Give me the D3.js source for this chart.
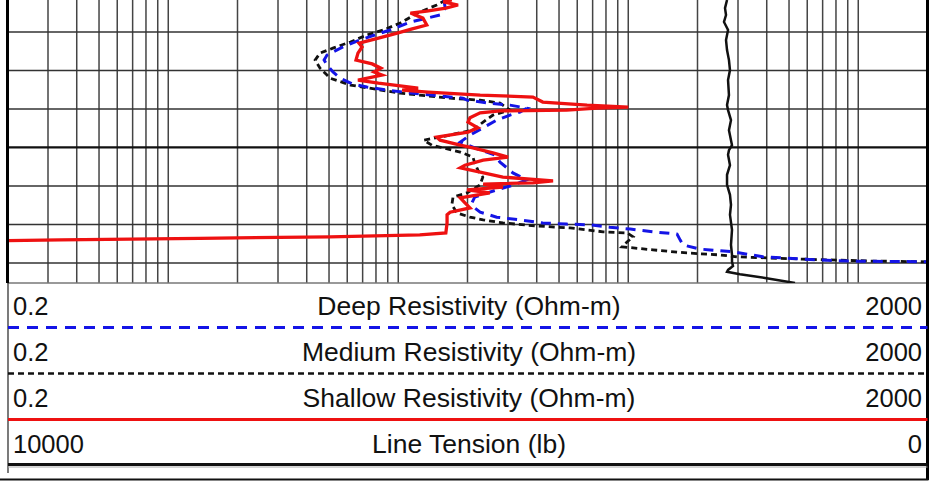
<!DOCTYPE html>
<html lang="en">
<head>
    <meta charset="UTF-8">
    <title>Resistivity Log</title>
    <script src="https://d3js.org/d3.v7.min.js"></script>
    <style>
        body { margin: 0; background: #fff; }
        text { font-family: "Liberation Sans", Arial, sans-serif; fill: #111; }
    </style>
</head>
<body>
<div id="log"></div>
<script>
// ---- data (depth in ft, resistivity in ohm-m, tension in lb) ----
const deepDepth = [5011.7, 5013.8, 5015.6, 5017.4, 5019.5, 5020.8, 5022.1, 5023.9, 5025.2, 5026.0,
    5027.3, 5028.6, 5030.4, 5032.0, 5033.5, 5034.3, 5035.1, 5036.1, 5037.2, 5037.7,
    5038.5, 5039.0, 5039.8, 5040.8, 5041.6, 5042.9, 5044.2, 5046.8, 5048.6, 5050.1,
    5051.9, 5053.8, 5055.3, 5056.6, 5058.4, 5059.7, 5061.0, 5062.9, 5064.4, 5065.7,
    5066.8, 5068.1, 5068.8, 5069.6, 5069.9, 5070.1, 5070.7, 5071.2, 5071.9, 5072.5,
    5074.0, 5075.3, 5076.4, 5076.6, 5077.1, 5078.4, 5079.0, 5079.5, 5079.7];
const deepRes = [15.8, 16.0, 15.2, 11.3, 9.2, 7.9, 6.8, 5.75, 5.2, 4.9,
    4.76, 4.9, 5.2, 5.6, 6.3, 7.3, 8.9, 12.4, 19.1, 19.9,
    25.0, 30.6, 36.2, 33.8, 30.6, 26.8, 24.5, 20.5, 18.6, 21.5,
    26.2, 27.7, 29.7, 31.5, 36.2, 31.9, 26.8, 21.5, 20.9, 21.5,
    22.7, 26.8, 33.8, 42.5, 54, 68, 83, 102, 128, 163,
    168, 173, 205, 227, 286, 385, 571, 898, 2000];

const medDepth = [5011.7, 5013.0, 5015.1, 5017.7, 5019.5, 5020.8, 5022.6, 5024.2, 5025.5, 5027.3,
    5029.4, 5031.2, 5032.0, 5033.8, 5035.9, 5037.2, 5037.7, 5038.5, 5040.3, 5041.6,
    5043.4, 5045.5, 5047.3, 5048.1, 5049.4, 5051.2, 5052.5, 5054.0, 5055.9, 5057.7,
    5059.7, 5061.8, 5062.9, 5064.9, 5067.0, 5068.1, 5068.8, 5069.6, 5070.4, 5070.9,
    5071.9, 5072.2, 5073.2, 5074.5, 5075.8, 5076.6, 5077.4, 5077.9, 5078.4, 5079.0,
    5079.5, 5079.7];
const medRes = [16.1, 14.7, 12.1, 10.2, 8.6, 7.3, 6.2, 5.2, 4.57, 4.35,
    4.57, 4.9, 5.05, 6.2, 10.2, 16.8, 22.7, 27.7, 30.6, 25.8,
    23.4, 21.1, 15.2, 12.9, 14.0, 18.6, 21.1, 21.5, 22.2, 23.3,
    22.7, 19.9, 17.3, 17.1, 18.0, 20.5, 23.4, 28.5, 40.1, 55.8,
    77.7, 99, 105, 99, 94, 128, 180, 250, 297, 571,
    1133, 2000];

const shallowDepth = [5011.7, 5012.2, 5013.0, 5013.8, 5014.6, 5015.1, 5016.4, 5018.2, 5019.2, 5020.3,
    5021.6, 5022.9, 5023.9, 5025.5, 5027.3, 5028.3, 5029.4, 5030.4, 5031.2, 5032.5,
    5033.3, 5034.0, 5034.6, 5035.1, 5035.6, 5036.4, 5036.9, 5038.2, 5039.0, 5039.5,
    5039.8, 5040.3, 5040.5, 5041.0, 5042.3, 5043.4, 5044.9, 5046.0, 5047.3, 5048.1,
    5049.4, 5050.1, 5051.4, 5052.5, 5053.3, 5054.6, 5055.3, 5056.4, 5057.7, 5058.7,
    5059.2, 5059.5, 5060.3, 5061.0, 5061.8, 5063.1, 5064.4, 5065.7, 5066.8, 5067.5,
    5069.6, 5072.2, 5072.7, 5073.2, 5073.6, 5074.0, 5074.2];
const shallowRes = [17.1, 15.7, 18.2, 16.1, 13.3, 11.3, 12.8, 13.3, 11.5, 9.9,
    8.2, 6.75, 6.96, 6.68, 6.55, 7.7, 8.4, 7.85, 8.5, 6.68,
    8.2, 10.2, 12.2, 10.4, 13.5, 22.7, 38.5, 42.5, 66.2, 100,
    72.9, 54, 27.7, 22.7, 20.5, 20.1, 22.2, 20.1, 14.7, 15.2,
    18.6, 21.1, 25.8, 30.0, 23.4, 19.5, 18.6, 22.7, 28.5, 47.1,
    38.5, 23.4, 28.5, 19.9, 25.0, 18.6, 19.5, 20.5, 16.8, 16.3,
    16.3, 16.1, 12.4, 5.05, 1.37, 0.34, 0.2];

const tensionDepth = [5011.7, 5013.8, 5015.6, 5017.4, 5019.5, 5022.1, 5024.7, 5027.3, 5029.9, 5032.5,
    5036.4, 5039.0, 5040.3, 5042.9, 5045.5, 5048.1, 5049.4, 5050.7, 5051.9, 5054.6,
    5057.1, 5059.7, 5062.3, 5064.9, 5067.5, 5071.4, 5075.3, 5077.9, 5079.7, 5080.8,
    5081.8, 5082.3, 5082.9, 5083.9, 5085.2];
const tension = [2179, 2201, 2190, 2212, 2168, 2190, 2179, 2158, 2147, 2168,
    2158, 2179, 2168, 2136, 2158, 2136, 2125, 2158, 2168, 2147,
    2179, 2179, 2147, 2136, 2147, 2125, 2136, 2125, 2125, 2114,
    2168, 2179, 2038, 1766, 1440];

const depthGrid = [5020, 5030, 5040, 5050, 5060, 5070, 5080];
const curveNames = ["Deep Resistivity (Ohm-m)", "Medium Resistivity (Ohm-m)",
    "Shallow Resistivity (Ohm-m)", "Line Tension (lb)"];
const scaleLeft = ["0.2", "0.2", "0.2", "10000"];
const scaleRight = ["2000", "2000", "2000", "0"];

// ---- layout ----
const W = 941, H = 481;
const trackLeft = 7.5, trackRight = 927.5, trackBottom = 283;

const svg = d3.select("#log").append("svg")
    .attr("width", W)
    .attr("height", H);

const x = d3.scaleLog().domain([0.2, 2000]).range([trackLeft, trackRight]);
const xT = d3.scaleLinear().domain([10000, 0]).range([trackLeft, trackRight]);
const y = d3.scaleLinear().domain([5011.7, 5085.2]).range([0, trackBottom]);

svg.append("clipPath").attr("id", "trk")
    .append("rect")
    .attr("x", trackLeft).attr("y", 0)
    .attr("width", trackRight - trackLeft).attr("height", trackBottom);

// vertical log grid
const grid = svg.append("g");
grid.selectAll("line.v")
    .data(x.ticks().filter(v => v > 0.2 && v < 2000))
    .enter().append("line")
    .attr("class", "v")
    .attr("x1", d => x(d)).attr("x2", d => x(d))
    .attr("y1", 0).attr("y2", trackBottom)
    .attr("stroke", "#444")
    .attr("stroke-width", 1.5);

// depth grid
grid.selectAll("line.h")
    .data(depthGrid)
    .enter().append("line")
    .attr("class", "h")
    .attr("x1", trackLeft).attr("x2", trackRight)
    .attr("y1", d => y(d)).attr("y2", d => y(d))
    .attr("stroke", d => d % 50 === 0 ? "#111" : "#333")
    .attr("stroke-width", d => d % 50 === 0 ? 2.2 : 1.5);

grid.append("line")
    .attr("x1", trackLeft).attr("x2", trackRight)
    .attr("y1", trackBottom).attr("y2", trackBottom)
    .attr("stroke", "#777").attr("stroke-width", 1.5);

// curves
const resLine = d3.line().x(d => x(d[1])).y(d => y(d[0]));
const tenLine = d3.line().x(d => xT(d[1])).y(d => y(d[0]));
const curves = svg.append("g").attr("clip-path", "url(#trk)");

curves.append("path")
    .datum(d3.zip(medDepth, medRes))
    .attr("d", resLine)
    .attr("fill", "none")
    .attr("stroke", "#111")
    .attr("stroke-width", 2.8)
    .attr("stroke-dasharray", "6,4");

curves.append("path")
    .datum(d3.zip(deepDepth, deepRes))
    .attr("d", resLine)
    .attr("fill", "none")
    .attr("stroke", "#1414e6")
    .attr("stroke-width", 3)
    .attr("stroke-dasharray", "10,7");

curves.append("path")
    .datum(d3.zip(shallowDepth, shallowRes))
    .attr("d", resLine)
    .attr("fill", "none")
    .attr("stroke", "#ee1111")
    .attr("stroke-width", 3.3);

curves.append("path")
    .datum(d3.zip(tensionDepth, tension))
    .attr("d", tenLine)
    .attr("fill", "none")
    .attr("stroke", "#111")
    .attr("stroke-width", 2.5);

// track borders
svg.append("line")
    .attr("x1", trackLeft).attr("x2", trackLeft)
    .attr("y1", 0).attr("y2", trackBottom)
    .attr("stroke", "#000").attr("stroke-width", 3);
svg.append("line")
    .attr("x1", trackRight).attr("x2", trackRight)
    .attr("y1", 0).attr("y2", 480)
    .attr("stroke", "#000").attr("stroke-width", 3);
svg.append("line")
    .attr("x1", 8).attr("x2", 8)
    .attr("y1", trackBottom).attr("y2", 473)
    .attr("stroke", "#333").attr("stroke-width", 1.3);

// legend / header rows
const rowBase = [315, 361, 407, 453];
const sepY = [327.5, 373.5, 419.5, 464.5];
const sepStyle = [
    { color: "#1414e6", width: 3, dash: "11,8" },
    { color: "#111", width: 2.5, dash: "6,4" },
    { color: "#ee1111", width: 3, dash: null },
    { color: "#111", width: 3, dash: null }
];

const legend = svg.append("g");
curveNames.forEach((name, i) => {
    legend.append("text")
        .attr("x", 13).attr("y", rowBase[i])
        .attr("font-size", 25.5)
        .text(scaleLeft[i]);
    legend.append("text")
        .attr("x", 469).attr("y", rowBase[i])
        .attr("text-anchor", "middle")
        .attr("font-size", 26.5)
        .text(name);
    legend.append("text")
        .attr("x", 922).attr("y", rowBase[i])
        .attr("text-anchor", "end")
        .attr("font-size", 25.5)
        .text(scaleRight[i]);
    legend.append("line")
        .attr("x1", 8).attr("x2", trackRight)
        .attr("y1", sepY[i]).attr("y2", sepY[i])
        .attr("stroke", sepStyle[i].color)
        .attr("stroke-width", sepStyle[i].width)
        .attr("stroke-dasharray", sepStyle[i].dash);
});

legend.append("line")
    .attr("x1", 8).attr("x2", trackRight)
    .attr("y1", 467).attr("y2", 467)
    .attr("stroke", "#aaa").attr("stroke-width", 1);

legend.append("line")
    .attr("x1", 0).attr("x2", trackRight + 1)
    .attr("y1", 479.5).attr("y2", 479.5)
    .attr("stroke", "#111").attr("stroke-width", 2);
</script>
</body>
</html>
